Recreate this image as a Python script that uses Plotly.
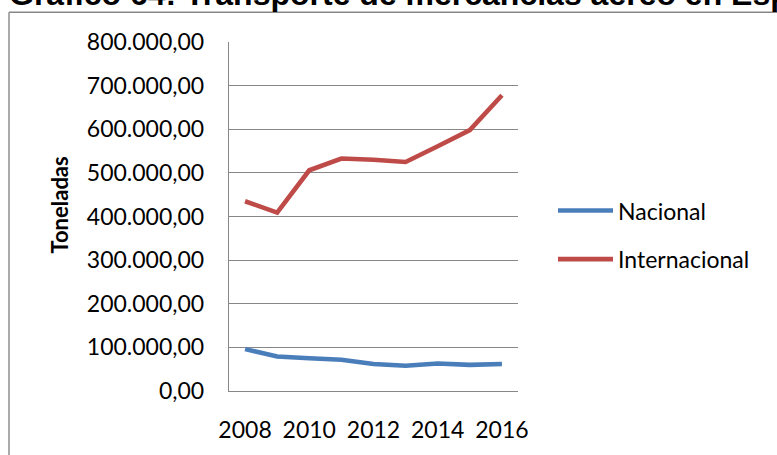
import plotly.graph_objects as go

years = [2008, 2009, 2010, 2011, 2012, 2013, 2014, 2015, 2016]
nacional = [96000, 79000, 75000, 71500, 62000, 58000, 63000, 60000, 62000]
internacional = [435000, 409000, 506000, 533000, 530000, 525000, 561000, 598000, 678000]
series_names = ["Nacional", "Internacional"]
x_tick_labels = ["2008", "2010", "2012", "2014", "2016"]
y_ticks = [0, 100000, 200000, 300000, 400000, 500000, 600000, 700000, 800000]
title_text = "Gráfico 64: Transporte de mercancías aéreo en España"
y_title = "Toneladas"

W, H = 777, 455
L, R, T, B = 229, 518, 42, 394


def px(x):
    return (x - L) / (R - L)


def py(y):
    return (B - y) / (B - T)


colors = ["#4A7EBB", "#BE4B48"]
grid = "#878787"
font = "Lato"

fig = go.Figure()
for name, vals, c in zip(series_names, [nacional, internacional], colors):
    fig.add_trace(go.Scatter(x=years, y=vals, name=name, mode="lines",
                             line=dict(color=c, width=4.6), showlegend=False))

fig.update_layout(
    width=W, height=H,
    margin=dict(l=L, r=W - R, t=T, b=H - B, pad=0),
    paper_bgcolor="white", plot_bgcolor="white",
    separators=",.",
    font=dict(family=font, size=23, color="black"),
    xaxis=dict(range=[years[0] - 0.5, years[-1] + 0.5],
               tickvals=[int(v) for v in x_tick_labels], ticktext=x_tick_labels,
               showgrid=False, zeroline=False, showline=True, linecolor=grid, linewidth=1.4,
               ticks="", ticklabelstandoff=18, tickfont=dict(family=font, size=23)),
    yaxis=dict(range=[0, 800000], tickvals=y_ticks, tickformat=",.2f",
               showgrid=True, gridcolor=grid, gridwidth=1.4, zeroline=False,
               showline=True, linecolor=grid, linewidth=1.4,
               ticks="", ticklabelstandoff=19, tickfont=dict(family=font, size=23)),
)

# Outer frame (left and top edges)
fig.add_shape(type="line", xref="paper", yref="paper", x0=px(9), x1=px(W + 5), y0=py(12), y1=py(12),
              line=dict(color=grid, width=1.4))
fig.add_shape(type="line", xref="paper", yref="paper", x0=px(9), x1=px(9), y0=py(12), y1=py(H + 5),
              line=dict(color=grid, width=1.4))

# Title (cut off at the top)
fig.add_annotation(text="<b>" + title_text + "</b>", xref="paper", yref="paper",
                   x=px(7), y=py(-6), xanchor="left", yanchor="middle", showarrow=False,
                   font=dict(family="Liberation Sans", size=32, color="black"))

# Y axis title
fig.add_annotation(text="<b>" + y_title + "</b>", xref="paper", yref="paper",
                   x=px(60), y=py(207), xanchor="center", yanchor="middle", showarrow=False,
                   textangle=-90, font=dict(family=font, size=22, color="black"))

# Manual legend
for i, (name, c) in enumerate(zip(series_names, colors)):
    yy = 212 + 49 * i
    fig.add_shape(type="line", xref="paper", yref="paper", x0=px(558), x1=px(613), y0=py(yy), y1=py(yy),
                  line=dict(color=c, width=4.6))
    fig.add_annotation(text=name, xref="paper", yref="paper", x=px(616), y=py(yy),
                       xanchor="left", yanchor="middle", showarrow=False,
                       font=dict(family=font, size=23, color="black"))

fig.write_html("out.html", config={"displayModeBar": False},
               post_script="document.body.style.margin='0';document.body.style.overflow='hidden';")
